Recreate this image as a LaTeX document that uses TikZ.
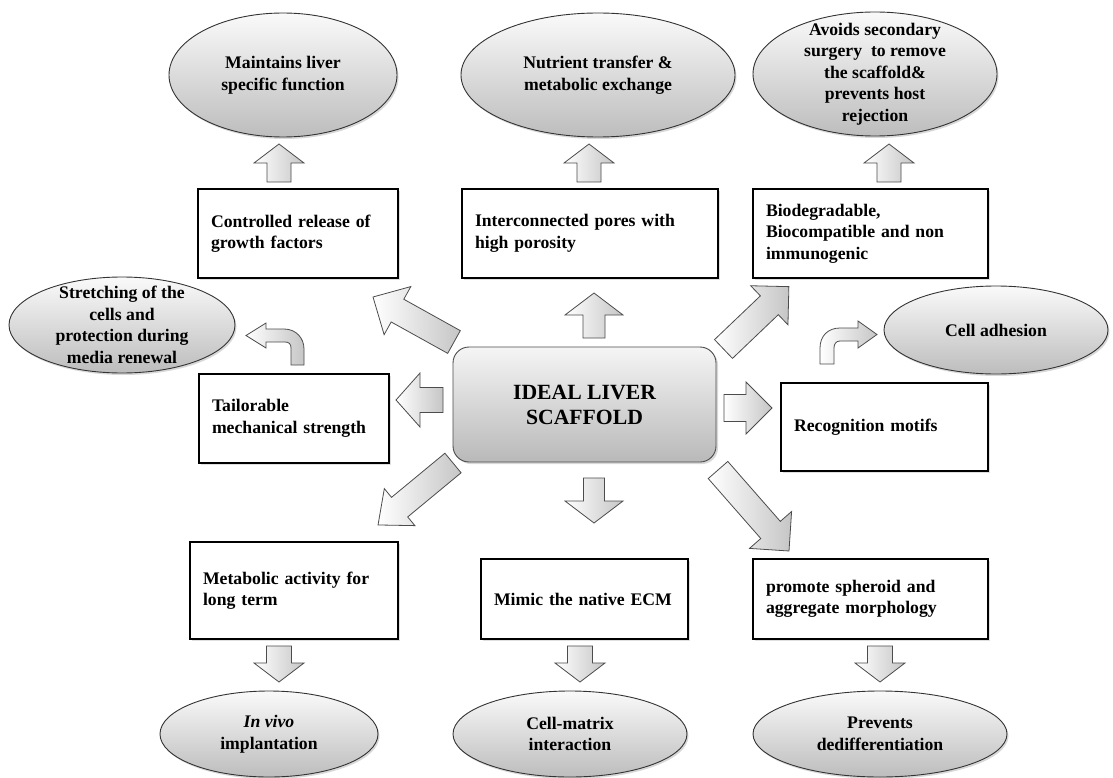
\documentclass[tikz,border=0pt]{standalone}
\usepackage{fontspec}
\setmainfont{Liberation Serif}
\usetikzlibrary{calc,shapes.geometric,shadows}
\newcommand\blockarr[6][]{%
  \pgfpointdiff{\pgfpointanchor{#2}{center}}{\pgfpointanchor{#3}{center}}%
  \pgfgetlastxy{\bdx}{\bdy}%
  \pgfmathsetmacro\barang{atan2(\bdy,\bdx)}%
  \pgfmathsetmacro\barlen{veclen(\bdx,\bdy)}%
  \pgfmathsetmacro\barbase{\barlen-#6}%
  \begin{scope}[shift={(#2)},rotate=\barang]
    \draw[blockarrow,#1] (0pt,-#4pt) -- (\barbase pt,-#4pt) -- (\barbase pt,-#5pt) -- (\barlen pt,0pt) -- (\barbase pt,#5pt) -- (\barbase pt,#4pt) -- (0pt,#4pt) -- cycle;
  \end{scope}}
\begin{document}
\begin{tikzpicture}[x=1pt,y=-1pt,
  every node/.style={font=\bfseries\fontsize{17.7}{21.5}\selectfont},
  oval/.style={ellipse, draw=black!80, line width=0.9pt, top color=gray!4, bottom color=gray!52, inner sep=0pt,
    drop shadow={opacity=0.3,shadow xshift=1.5pt,shadow yshift=-2pt}},
  ovaltext/.style={align=center, inner sep=0pt},
  box/.style={rectangle, draw=black, line width=2pt, fill=white, align=left, inner xsep=13pt, inner ysep=0pt,
    anchor=north west, drop shadow={opacity=0.25,shadow xshift=2pt,shadow yshift=-2pt}},
  hub/.style={rectangle, rounded corners=16pt, draw=black!70, line width=0.9pt, top color=gray!8, bottom color=gray!55,
    align=center, font=\bfseries\fontsize{21.7}{25}\selectfont,
    drop shadow={opacity=0.3,shadow xshift=2pt,shadow yshift=-2pt}},
  blockarrow/.style={draw=black!70, line width=0.8pt, left color=white, right color=gray!45, line join=miter}
]
\useasboundingbox (0,0) rectangle (1113,778);
\fill[white] (0,0) rectangle (1113,778);

% ellipses
\node[oval, minimum width=228pt, minimum height=124pt] (e1) at (283,75) {};
\node[ovaltext] (e1t) at (e1) {Maintains liver\\specific function};
\node[oval, minimum width=274pt, minimum height=124pt] (e2) at (598,75) {};
\node[ovaltext] (e2t) at (e2) {Nutrient transfer \&\\metabolic exchange};
\node[oval, minimum width=244pt, minimum height=124pt] (e3) at (875,74) {};
\node[ovaltext] (e3t) at (e3) {Avoids secondary\\surgery\ \ to remove\\the scaffold\&\\prevents host\\rejection};
\node[oval, minimum width=226pt, minimum height=96pt] (e4) at (122,325) {};
\node[ovaltext] (e4t) at (e4) {Stretching of the\\cells and\\protection during\\media renewal};
\node[oval, minimum width=224pt, minimum height=88pt] (e5) at (996,330) {};
\node[ovaltext] (e5t) at (e5) {Cell adhesion};
\node[oval, minimum width=218pt, minimum height=86pt] (e6) at (269,734) {};
\node[ovaltext] (e6t) at (e6) {\textit{In vivo}\\implantation};
\node[oval, minimum width=234pt, minimum height=86pt] (e7) at (570,734) {};
\node[ovaltext] (e7t) at (e7) {Cell-matrix\\interaction};
\node[oval, minimum width=254pt, minimum height=86pt] (e8) at (880,734) {};
\node[ovaltext] (e8t) at (e8) {Prevents\\dedifferentiation};

% boxes
\node[box, minimum height=89pt, text width=174pt] (b1) at (197,188) {Controlled release of\\growth factors};
\node[box, minimum height=89pt, text width=230pt] (b2) at (461,188) {Interconnected pores with\\high porosity};
\node[box, minimum height=89pt, text width=209pt] (b3) at (752,188) {Biodegradable,\\Biocompatible and non\\immunogenic};
\node[box, minimum height=89pt, text width=164pt] (b4) at (198,373) {Tailorable\\mechanical strength};
\node[box, minimum height=88pt, text width=181pt] (b5) at (780,382) {Recognition motifs};
\node[box, minimum height=97pt, text width=182pt] (b6) at (189,541) {Metabolic activity for\\long term};
\node[box, minimum height=80pt, text width=181pt] (b7) at (480,558) {Mimic the native ECM};
\node[box, minimum height=80pt, text width=209pt] (b8) at (752,558) {promote spheroid and\\aggregate morphology};

% hub
\node[hub, minimum width=263pt, minimum height=115pt] (hub) at (584.5,404.5) {IDEAL LIVER\\SCAFFOLD};

% arrow end points
\coordinate (a1s) at (279,182); \coordinate (a1e) at (279,144);
\coordinate (a2s) at (589,182); \coordinate (a2e) at (589,144);
\coordinate (a3s) at (889,182); \coordinate (a3e) at (889,144);
\coordinate (ucs) at (594,338); \coordinate (uce) at (594,293);
\coordinate (lcs) at (443,400); \coordinate (lce) at (396,400);
\coordinate (rcs) at (724,408); \coordinate (rce) at (772,408);
\coordinate (dcs) at (594,478); \coordinate (dce) at (594,523);
\coordinate (d1s) at (279,646); \coordinate (d1e) at (279,682);
\coordinate (d2s) at (580,646); \coordinate (d2e) at (580,682);
\coordinate (d3s) at (880,646); \coordinate (d3e) at (880,682);
\coordinate (uls) at (454,342); \coordinate (ule) at (373,297);
\coordinate (dls) at (453,463); \coordinate (dle) at (378,525);
\coordinate (urs) at (723.5,349); \coordinate (ure) at (789,286.5);
\coordinate (drs) at (718,470); \coordinate (dre) at (789,551);

\blockarr{a1s}{a1e}{12}{25}{19}
\blockarr{a2s}{a2e}{12}{25}{19}
\blockarr{a3s}{a3e}{12}{25}{19}
\blockarr{ucs}{uce}{11}{29}{22}
\blockarr{lcs}{lce}{12.5}{27}{24}
\blockarr{rcs}{rce}{13.5}{26}{26}
\blockarr{dcs}{dce}{10.5}{29}{22}
\blockarr{d1s}{d1e}{12.5}{25}{19}
\blockarr{d2s}{d2e}{12.5}{25}{19}
\blockarr{d3s}{d3e}{12.5}{25}{19}
\blockarr{uls}{ule}{13}{27.5}{28}
\blockarr{dls}{dle}{12.7}{24}{28}
\blockarr{urs}{ure}{13}{27}{27}
\blockarr{drs}{dre}{13}{28}{28}

% bent arrows
\draw[blockarrow] (304,365) -- (304,349) .. controls (304,338) and (296,329) .. (284,329) -- (266,329) -- (266,323)
  -- (246,335.5) -- (266,348) -- (266,342) -- (285,342) .. controls (289,342) and (291,344) .. (291,348) -- (291,365) -- cycle;
\draw[blockarrow] (820,364) -- (820,348) .. controls (820,336) and (828,328) .. (840,328) -- (858,328) -- (858,321)
  -- (877,334.5) -- (858,348) -- (858,341) -- (840,341) .. controls (836,341) and (834,344) .. (834,348) -- (834,364) -- cycle;
\end{tikzpicture}
\end{document}
